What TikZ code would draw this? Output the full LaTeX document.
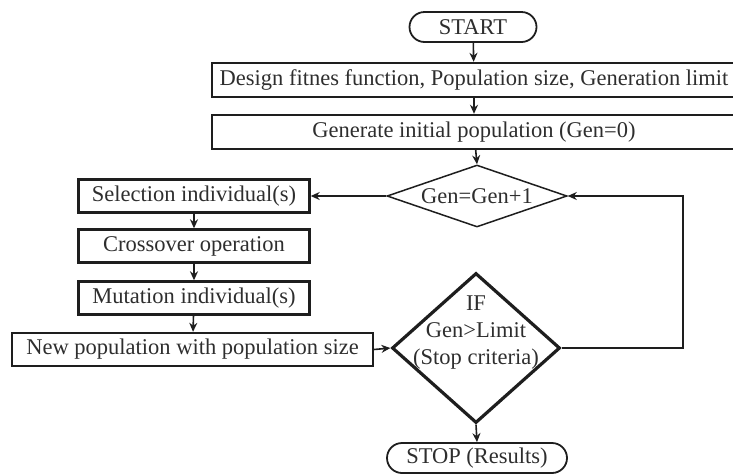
\documentclass[tikz,border=0pt]{standalone}
\usepackage{fontspec}
\setmainfont{Liberation Serif}
\usetikzlibrary{shapes.geometric,arrows.meta}
\definecolor{ink}{HTML}{1E1E1E}
\definecolor{txt}{HTML}{2E2E2E}
\begin{document}
\begin{tikzpicture}[x=1pt,y=-1pt,
  every node/.style={font=\fontsize{22.5}{27}\selectfont, text=txt},
  boxnode/.style={draw=ink, line width=2.4pt, rectangle, inner sep=0pt, minimum height=33pt},
  pill/.style={draw=ink, line width=1.8pt, rectangle, rounded corners=15pt, inner sep=0pt, minimum height=30pt},
  thindia/.style={draw=ink, line width=1.5pt, diamond, inner sep=0pt},
  thickdia/.style={draw=ink, line width=3.2pt, diamond, inner sep=0pt},
  arr/.style={draw=ink, line width=1.6pt, -{Stealth[length=9pt,width=8pt]}},
  line/.style={draw=ink, line width=1.6pt}]
\useasboundingbox (0,0) rectangle (733,475);
\clip (0,0) rectangle (733,475);
\node[pill, minimum width=127pt] (start) at (473,27) {START};
\node[boxnode, minimum width=524pt, minimum height=34pt] (design) at (474,80) {Design fitnes function, Population size, Generation limit};
\node[boxnode, minimum width=524pt, minimum height=34pt] (gener) at (474,132) {Generate initial population (Gen=0)};
\node[thindia, minimum width=180pt, minimum height=62pt] (gen) at (477,196) {\makebox[0pt]{Gen=Gen+1}};
\node[boxnode, minimum width=231pt] (sel) at (194,196) {Selection individual(s)};
\node[boxnode, minimum width=231pt] (cross) at (194,246) {Crossover operation};
\node[boxnode, minimum width=231pt] (mut) at (194,298) {Mutation individual(s)};
\node[boxnode, minimum width=361pt] (newpop) at (192.5,349.5) {New population with population size};
\node[thickdia, minimum width=168pt, minimum height=150pt] (ifd) at (476,348) {};
\node[align=center, inner sep=0pt] (ift) at (476,333) {IF\\Gen>Limit\\(Stop criteria)};
\node[pill, minimum width=180pt] (stop) at (477,458) {STOP (Results)};
\coordinate (loopA) at (683,348);
\coordinate (loopB) at (683,196);
\draw[arr] (start) -- (design);
\draw[arr] (design) -- (gener);
\draw[arr] (gener) -- (gen.north);
\draw[arr] (gen.west) -- (sel.east);
\draw[arr] (sel) -- (cross);
\draw[arr] (cross) -- (mut);
\draw[arr] (mut) -- (newpop);
\draw[arr] (newpop.east) -- (ifd.west);
\draw[arr] (ifd.south) -- (stop.north);
\draw[arr] (ifd.east) -- (loopA) -- (loopB) -- (gen.east);
\end{tikzpicture}
\end{document}
